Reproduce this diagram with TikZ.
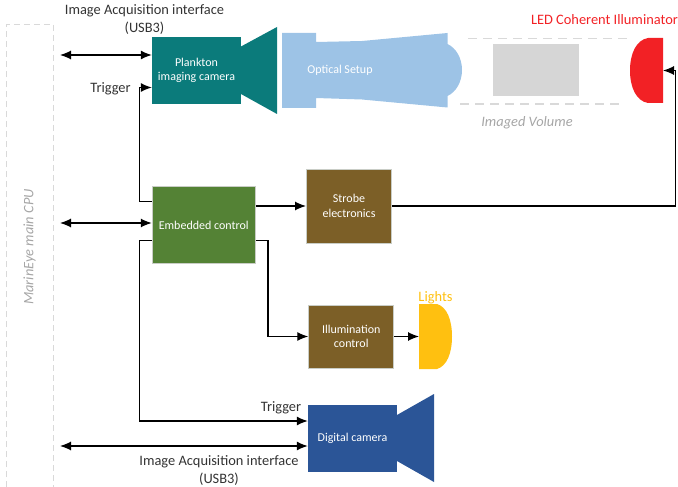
\documentclass[tikz,border=0pt]{standalone}
\usepackage{fontspec}
\setmainfont{Carlito}
\usetikzlibrary{arrows.meta,positioning}
\definecolor{tealcam}{HTML}{0B7B7B}
\definecolor{optblue}{HTML}{9DC3E6}
\definecolor{ctlgreen}{HTML}{548235}
\definecolor{elecbrown}{HTML}{7C5F27}
\definecolor{digblue}{HTML}{2B5597}
\definecolor{ledred}{HTML}{F22125}
\definecolor{lightyellow}{HTML}{FFC010}
\definecolor{edgegray}{HTML}{C9CDC6}
\definecolor{dashgray}{HTML}{D9D9D9}
\tikzset
{
    block/.style    = {align=center, text=white, font=\fontsize{12}{14.5}\selectfont, inner sep=0pt},
    ctlblock/.style = {block, draw=edgegray, line width=1pt},
    label/.style    = {align=center, font=\fontsize{14.4}{18}\selectfont, text=black!80, inner sep=0pt},
    link/.style     = {-{Latex[length=11pt,width=9pt]}, line width=1.2pt},
    both/.style     = {{Latex[length=11pt,width=9pt]}-{Latex[length=11pt,width=9pt]}, line width=1.2pt},
    volume/.style   = {dashgray, line width=1.2pt, dash pattern=on 9pt off 6pt}
}

\begin{document}
\begin{tikzpicture}[x=1pt,y=-1pt]
    \useasboundingbox (0,0) rectangle (678,487);

    % CPU outline
    \draw [volume, line width=1pt, dash pattern=on 6pt off 4pt] (6.5,487) -- (6.5,24.5) -- (53.5,24.5) -- (53.5,487);
    \node [label, text=black!35, font=\fontsize{14.4}{16}\selectfont\itshape, rotate=90] (cpu) at (29.5,247) {MarinEye main CPU};
    \coordinate (cpuA) at (60,55);
    \coordinate (cpuB) at (60,223);
    \coordinate (cpuC) at (60,446);

    % plankton camera
    \fill [tealcam] (241,46.5) -- (277,27) -- (277,114) -- (241,94) -- cycle;
    \node [block, fill=tealcam, minimum width=89pt, minimum height=67pt] (plankton) at (196.5,70.5) {Plankton\\imaging camera};

    % optics
    \fill [optblue] (282,33) -- (316,33) -- (316,42) -- (362,41) -- (447.5,33) -- (447.5,44)
        .. controls (456,48) and (462,58) .. (462,70) .. controls (462,82) and (456,92) .. (447.5,96)
        -- (447.5,107.5) -- (362,99.5) -- (316,98) -- (316,108) -- (282,108) -- cycle;
    \node [block] (optics) at (340,70.5) {Optical Setup};

    % imaged volume
    \draw [volume] (468,38.7) -- (629,38.7);
    \draw [volume] (460,104) -- (622,104);
    \node [fill=black!16, minimum width=86pt, minimum height=52pt, inner sep=0pt] (sample) at (536,70) {};
    \node [label, text=black!35, font=\fontsize{14.4}{18}\selectfont\itshape] (volumetext) at (527,122.5) {Imaged Volume};

    % LED
    \fill [ledred] (663,38) -- (648,38) .. controls (636,40) and (630,54) .. (630,70.5)
        .. controls (630,87) and (636,101) .. (648,103) -- (663,103) -- cycle;
    \coordinate (led) at (663,70.5);
    \node [label, text=ledred] (ledtext) at (604.5,20) {LED Coherent Illuminator};

    % control
    \node [ctlblock, fill=ctlgreen, minimum width=103pt, minimum height=77pt] (embedded) at (203.75,225.25) {Embedded control};
    \node [ctlblock, fill=elecbrown, minimum width=85pt, minimum height=74pt] (strobe) at (349,206) {Strobe\\electronics};
    \node [ctlblock, fill=elecbrown, minimum width=85pt, minimum height=63pt] (illum) at (351.25,336.5) {Illumination\\control};

    % lights
    \fill [lightyellow] (419,304) -- (437,304) .. controls (447,307) and (452,320) .. (452,336.5)
        .. controls (452,353) and (447,366) .. (437,369) -- (419,369) -- cycle;
    \coordinate (lights) at (419,336.5);
    \node [label, text=lightyellow] (lightstext) at (435.5,298) {Lights};

    % digital camera
    \fill [digblue] (397,415) -- (434,394) -- (434,482) -- (397,461) -- cycle;
    \node [block, fill=digblue, minimum width=89pt, minimum height=67pt] (digital) at (352.5,438.5) {Digital camera};

    % connectors
    \draw [both] (cpuA) -- (cpuA -| plankton.west);
    \draw [both] (cpuB) -- (cpuB -| embedded.west);
    \draw [both] (cpuC) -- (cpuC -| digital.west);
    \draw [link] ([yshift=24pt]embedded.west) -| (139.5,87.5) -- ([yshift=-17pt]plankton.west);
    \draw [link] ([yshift=-15pt]embedded.west) -| (139.5,421) -- ([yshift=17.5pt]digital.west);
    \draw [link] (strobe.east -| embedded.east) -- (strobe.west);
    \draw [link] (strobe.east) -| (675.5,70.5) -- (led);
    \draw [link] ([yshift=-15pt]embedded.east) -| (268,336.5) -- (illum.west);
    \draw [link] (illum.east) -- (lights);

    % labels
    \node [label] (usbtop) at (144.5,20) {Image Acquisition interface\\(USB3)};
    \node [label] (trigtop) at (110.5,88.5) {Trigger};
    \node [label] (trigbot) at (281,407.5) {Trigger};
    \node [label] (usbbot) at (219,471) {Image Acquisition interface\\(USB3)};
\end{tikzpicture}
\end{document}
